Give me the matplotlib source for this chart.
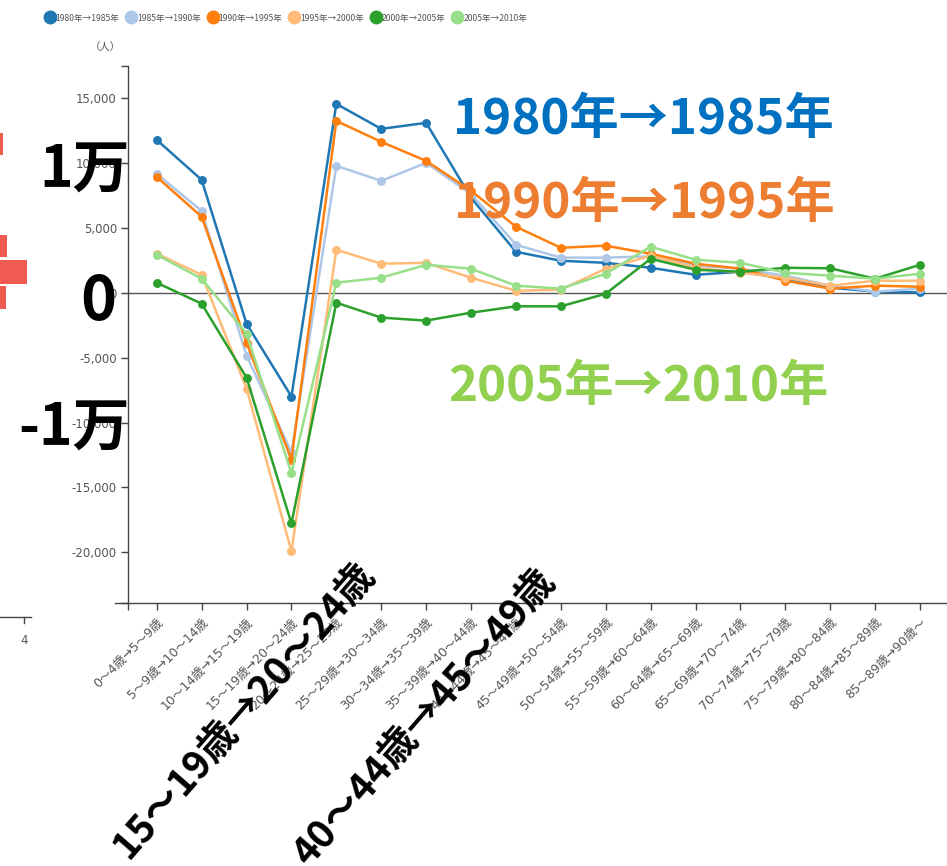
import matplotlib
matplotlib.use("Agg")
import matplotlib.pyplot as plt
from matplotlib.lines import Line2D
from matplotlib.patches import Rectangle

plt.rcParams["font.family"] = ["DejaVu Sans", "Noto Sans CJK JP"]

# age-group transitions (x axis)
age_labels = [
    "0～4歳→5～9歳", "5～9歳→10～14歳", "10～14歳→15～19歳",
    "15～19歳→20～24歳", "20～24歳→25～29歳", "25～29歳→30～34歳",
    "30～34歳→35～39歳", "35～39歳→40～44歳", "40～44歳→45～49歳",
    "45～49歳→50～54歳", "50～54歳→55～59歳", "55～59歳→60～64歳",
    "60～64歳→65～69歳", "65～69歳→70～74歳", "70～74歳→75～79歳",
    "75～79歳→80～84歳", "80～84歳→85～89歳", "85～89歳→90歳～",
]

# net migration (people)
s1980 = [11770, 8690, -2390, -8000, 14540, 12620, 13080, 7310, 3150,
         2460, 2300, 1920, 1380, 1610, 1080, 390, 80, 20]
s1985 = [9150, 6300, -4850, -12300, 9770, 8615, 10000, 7600, 3690,
         2700, 2700, 2800, 2080, 1850, 1310, 540, 80, 310]
s1990 = [8920, 5850, -3850, -12850, 13230, 11620, 10150, 7850, 5080,
         3460, 3620, 3000, 2230, 1850, 920, 310, 540, 460]
s1995 = [3000, 1380, -7380, -19920, 3310, 2230, 2300, 1150, 150,
         230, 1850, 2850, 1920, 1540, 1150, 540, 920, 920]
s2000 = [770, -850, -6540, -17770, -770, -1920, -2150, -1540, -1050,
         -1050, -80, 2610, 1770, 1610, 1920, 1880, 1080, 2150]
s2005 = [2920, 1080, -3150, -13920, 770, 1150, 2150, 1850, 540,
         310, 1460, 3540, 2540, 2300, 1540, 1310, 1080, 1460]

series_names = ["1980年→1985年", "1985年→1990年", "1990年→1995年",
                "1995年→2000年", "2000年→2005年", "2005年→2010年"]
series_values = [s1980, s1985, s1990, s1995, s2000, s2005]
series_colors = ["#1f77b4", "#aec7e8", "#ff7f0e", "#ffbb78", "#2ca02c", "#98df8a"]

y_ticks = [15000, 10000, 5000, 0, -5000, -10000, -15000, -20000]

W, H = 947, 866
fig = plt.figure(figsize=(W / 100, H / 100), dpi=100)
ax = fig.add_axes([128 / W, 1 - 603 / H, 1 - 128 / W, (603 - 66) / H])

x = list(range(len(age_labels)))
for name, vals, col in zip(series_names, series_values, series_colors):
    ax.plot(x, vals, color=col, lw=1.8, marker="o", ms=5.4, label=name,
            solid_joinstyle="round", zorder=3)

ax.axhline(0, color="#555555", lw=1, zorder=2)

ylo, yhi = -23900, 17460
xlo, xhi = -0.64, 17.6
ax.set_ylim(ylo, yhi)
ax.set_xlim(xlo, xhi)

ax.set_yticks(y_ticks + [ylo, yhi])
ax.set_yticklabels([f"{v:,}" for v in y_ticks] + ["", ""])
ax.set_xticks(x + [xlo])
ax.set_xticklabels(age_labels + [""], rotation=45, ha="right",
                   rotation_mode="anchor")
ax.tick_params(axis="both", length=5, width=1, color="#444444",
               labelcolor="#555555", labelsize=8.5, pad=3)
ax.tick_params(axis="x", pad=4, labelsize=9)
for side in ("top", "right"):
    ax.spines[side].set_visible(False)
for side in ("left", "bottom"):
    ax.spines[side].set_color("#444444")
    ax.spines[side].set_linewidth(1)
ax.spines["bottom"].set_bounds(xlo - 0.3, xhi)
ax.set_facecolor("none")

fig.text(105 / W, 1 - 48 / H, "（人）", fontsize=7.5, color="#555555",
         ha="center", va="center")

# legend along the top
handles = [Line2D([], [], ls="none", marker="o", ms=9, color=c)
           for c in series_colors]
fig.legend(handles, series_names, loc="center left", ncol=6,
           bbox_to_anchor=(41 / W, 1 - 18 / H), frameon=False,
           prop={"family": ["Noto Sans CJK JP"], "size": 6.2},
           labelcolor="#555555", handletextpad=0.05,
           columnspacing=0.75, handlelength=1.25, borderaxespad=0)

# big overlay annotations
big = dict(family=["Noto Sans CJK JP"], weight="bold")
fig.text(130 / W, 1 - 171 / H, "1万", fontsize=41, ha="right", va="center",
         color="black", **big)
fig.text(98 / W, 1 - 302 / H, "0", fontsize=44, ha="center", va="center",
         color="black", **big)
fig.text(130 / W, 1 - 429 / H, "-1万", fontsize=41, ha="right", va="center",
         color="black", **big)
fig.text(643 / W, 1 - 119 / H, "1980年→1985年", fontsize=35.5, ha="center",
         va="center", color="#0070C0", **big)
fig.text(644 / W, 1 - 203 / H, "1990年→1995年", fontsize=35.5, ha="center",
         va="center", color="#ED7D31", **big)
fig.text(638 / W, 1 - 386 / H, "2005年→2010年", fontsize=35.5, ha="center",
         va="center", color="#92D050", **big)
fig.text(244 / W, 1 - 710 / H, "15～19歳→20～24歳", fontsize=28, rotation=49,
         rotation_mode="anchor", ha="center", va="center", color="black", **big)
fig.text(424 / W, 1 - 718 / H, "40～44歳→45～49歳", fontsize=28, rotation=49,
         rotation_mode="anchor", ha="center", va="center", color="black", **big)

# fragments of a neighbouring chart at the left edge
red = "#EF5B50"
for (x0, y0, w, h) in [(0, 133, 3, 22), (0, 235, 7, 22), (0, 260, 27, 24),
                       (0, 286, 6, 23)]:
    fig.patches.append(Rectangle((x0 / W, 1 - (y0 + h) / H), w / W, h / H,
                                 transform=fig.transFigure, color=red,
                                 lw=0))
fig.add_artist(Line2D([0, 31 / W], [1 - 617 / H] * 2, color="#444444", lw=1,
                      transform=fig.transFigure))
fig.add_artist(Line2D([24 / W] * 2, [1 - 617 / H, 1 - 623 / H], color="#444444",
                      lw=1, transform=fig.transFigure))
fig.text(24 / W, 1 - 640 / H, "4", fontsize=8.5, color="#555555",
         ha="center", va="center")

fig.savefig("out.png", dpi=100)
